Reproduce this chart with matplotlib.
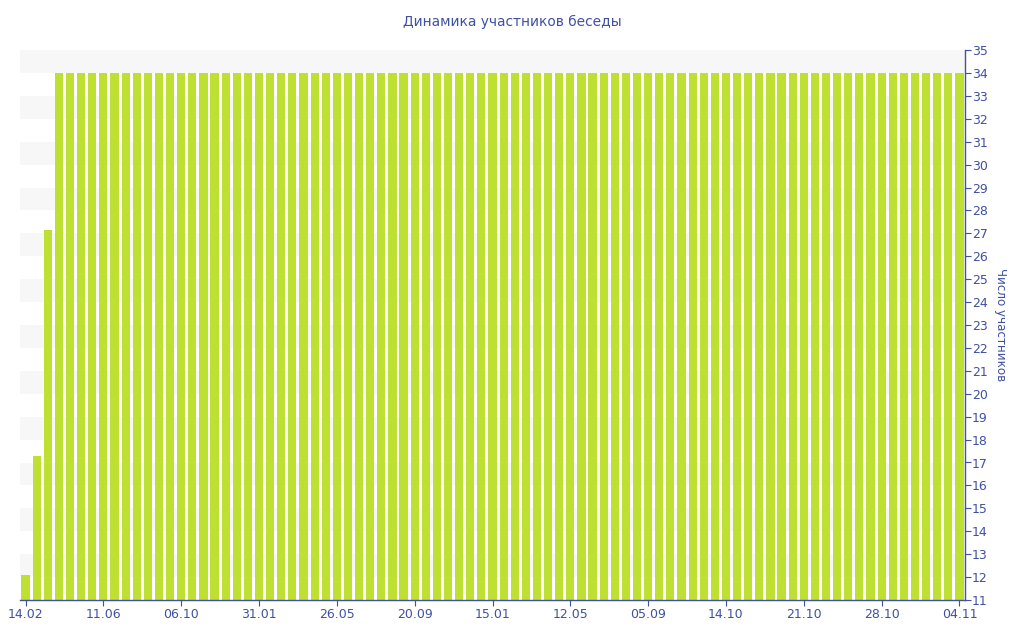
import matplotlib
matplotlib.use("Agg")
import matplotlib.pyplot as plt

title = "Динамика участников беседы"
y_label = "Число участников"
tick_labels = ["14.02", "11.06", "06.10", "31.01", "26.05", "20.09", "15.01",
               "12.05", "05.09", "14.10", "21.10", "28.10", "04.11"]
tick_step = 7
members = [
    12.1, 17.3, 27.15, 34, 34, 34, 34, 34, 34, 34,
    34, 34, 34, 34, 34, 34, 34, 34, 34, 34,
    34, 34, 34, 34, 34, 34, 34, 34, 34, 34,
    34, 34, 34, 34, 34, 34, 34, 34, 34, 34,
    34, 34, 34, 34, 34, 34, 34, 34, 34, 34,
    34, 34, 34, 34, 34, 34, 34, 34, 34, 34,
    34, 34, 34, 34, 34, 34, 34, 34, 34, 34,
    34, 34, 34, 34, 34, 34, 34, 34, 34, 34,
    34, 34, 34, 34, 34,
]
y_min, y_max = 11, 35

blue = "#3f51a0"
bar_color = "#bde033"
band_color = "#f7f7f7"

plt.rcParams["font.family"] = ["DejaVu Sans"]
fig = plt.figure(figsize=(10.24, 6.4), dpi=100)
ax = fig.add_axes([20 / 1024, 1 - 600 / 640, 945 / 1024, 550 / 640])

n = len(members)
x = list(range(n))
# alternating horizontal bands
for lo in range(y_max - 1, y_min - 1, -2):
    ax.axhspan(lo, lo + 1, color=band_color, zorder=0, lw=0)

ax.bar(x, [v - y_min for v in members], bottom=y_min, width=0.74,
       color=bar_color, zorder=2, linewidth=0)

ax.set_xlim(-0.5, n - 0.5)
ax.set_ylim(y_min, y_max)

ax.set_xticks(list(range(0, n, tick_step))[:len(tick_labels)])
ax.set_xticklabels(tick_labels)
ax.set_yticks(range(y_min, y_max + 1))

ax.yaxis.tick_right()
ax.yaxis.set_label_position("right")
ax.set_ylabel(y_label, color=blue, fontsize=8.6, rotation=-90, labelpad=14)

for s in ["left", "top"]:
    ax.spines[s].set_visible(False)
for s in ["right", "bottom"]:
    ax.spines[s].set_color(blue)
    ax.spines[s].set_linewidth(1)
    ax.spines[s].set_zorder(3)

ax.tick_params(axis="x", colors=blue, labelsize=9, length=4, width=0.8, pad=2)
ax.tick_params(axis="y", colors=blue, labelsize=9, length=4, width=0.8, pad=1)

fig.text(512 / 1024, 1 - 22 / 640, title, ha="center", va="center",
         color=blue, fontsize=9.9)

fig.savefig("out.png", dpi=100)
